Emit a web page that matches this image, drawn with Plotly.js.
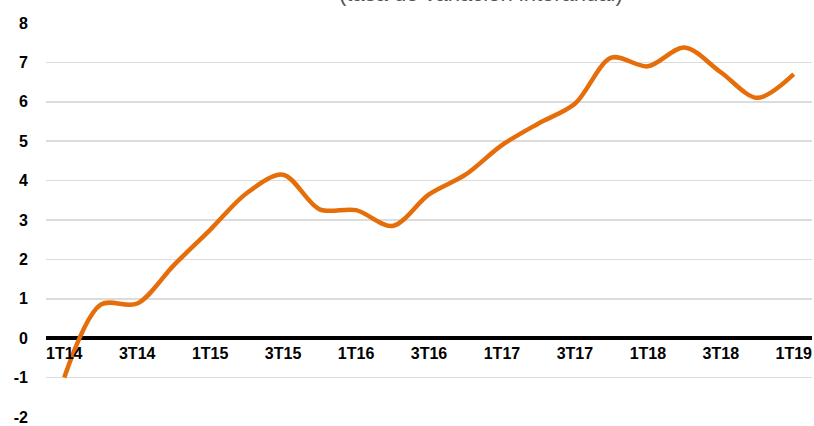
<!DOCTYPE html>
<html>
<head>
<meta charset="utf-8">
<script src="https://cdn.plot.ly/plotly-3.0.1.min.js"></script>
<style>html,body{margin:0;padding:0;background:#fff;}#chart{width:814px;height:426px;}</style>
</head>
<body>
<div id="chart"></div>
<script>
const quarters = ["1T14","2T14","3T14","4T14","1T15","2T15","3T15","4T15","1T16","2T16","3T16","4T16","1T17","2T17","3T17","4T17","1T18","2T18","3T18","4T18","1T19"];
const values = [-1.0, 0.85, 0.88, 1.85, 2.75, 3.68, 4.15, 3.27, 3.25, 2.85, 3.65, 4.15, 4.9, 5.45, 5.95, 7.12, 6.9, 7.38, 6.75, 6.1, 6.7];
const tickLabels = ["1T14","3T14","1T15","3T15","1T16","3T16","1T17","3T17","1T18","3T18","1T19"];
const yTicks = [-2, -1, 0, 1, 2, 3, 4, 5, 6, 7, 8];
const yTickLabels = ["-2","-1","0","1","2","3","4","5","6","7","8"];
const titleText = "(tasa de variación interanual)";

const font = {family: "Liberation Sans, Arial, sans-serif", size: 16, color: "#000"};

Plotly.newPlot("chart", [{
  x: quarters,
  y: values,
  type: "scatter",
  mode: "lines",
  line: {color: "#E56E0B", width: 4.5, shape: "spline", smoothing: 0.9},
  hoverinfo: "skip"
}], {
  width: 814, height: 426,
  margin: {l: 46, r: 2, t: 23, b: 9},
  paper_bgcolor: "#fff", plot_bgcolor: "#fff",
  showlegend: false,
  font: font,
  xaxis: {
    type: "category",
    range: [-0.5, 20.5],
    anchor: "free",
    position: 0.2,
    tickmode: "array",
    tickvals: tickLabels,
    ticktext: tickLabels.map(t => "<b>" + t + "</b>"),
    ticks: "",
    showgrid: false,
    showline: false,
    zeroline: false,
    ticklabelstandoff: 4,
    tickfont: font
  },
  yaxis: {
    range: [-2, 8],
    tickmode: "array",
    tickvals: yTicks,
    ticktext: yTickLabels.map(t => "<b>" + t + "</b>"),
    showgrid: true,
    gridcolor: "#dcdcdc",
    gridwidth: 1.5,
    zeroline: true,
    zerolinecolor: "#000",
    zerolinewidth: 3.5,
    showline: false,
    ticks: "",
    ticklabelstandoff: 17,
    tickfont: font
  },
  annotations: [{
    text: titleText,
    xref: "paper", yref: "paper",
    x: (481 - 46) / 766, y: 1, yshift: 15.4,
    xanchor: "center", yanchor: "bottom",
    showarrow: false,
    font: {family: "Liberation Sans, Arial, sans-serif", size: 22, color: "#555"}
  }]
}, {displayModeBar: false, staticPlot: true});
</script>
</body>
</html>
